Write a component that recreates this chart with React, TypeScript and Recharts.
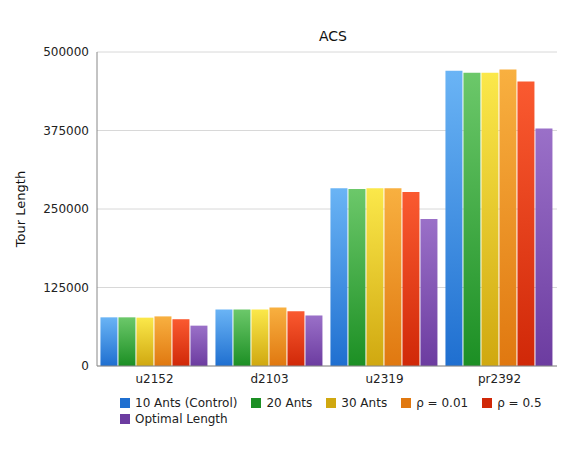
import React from "react";
import { BarChart, Bar, XAxis, YAxis, CartesianGrid, Legend } from "recharts";

const categories = ["u2152", "d2103", "u2319", "pr2392"];
const ants10 = [77500, 90000, 283000, 470000];
const ants20 = [77500, 90000, 282000, 467000];
const ants30 = [77000, 90000, 283000, 467000];
const rho001 = [79000, 93000, 283000, 472000];
const rho05 = [74500, 87000, 277000, 453000];
const optimal = [64253, 80450, 234256, 378032];
const ticks = [0, 125000, 250000, 375000, 500000];

const series = [
  { key: "a10", name: "10 Ants (Control)", vals: ants10, c1: "#6ab4f5", c2: "#1f6fd0" },
  { key: "a20", name: "20 Ants", vals: ants20, c1: "#6cc86a", c2: "#1c8f24" },
  { key: "a30", name: "30 Ants", vals: ants30, c1: "#fbe84a", c2: "#d0a810" },
  { key: "r1", name: "ρ = 0.01", vals: rho001, c1: "#f8b040", c2: "#e07810" },
  { key: "r5", name: "ρ = 0.5", vals: rho05, c1: "#fa5a30", c2: "#d02808" },
  { key: "opt", name: "Optimal Length", vals: optimal, c1: "#9a70c8", c2: "#6c3ca0" },
];

const data = categories.map((c, i) => {
  const o: any = { name: c };
  series.forEach((s) => (o[s.key] = s.vals[i]));
  return o;
});

const font = "'Lucida Grande', 'DejaVu Sans', sans-serif";

const renderLegend = () => (
  <div style={{ marginLeft: 92, width: 460, display: "flex", flexWrap: "wrap", fontSize: 12, fontFamily: font, color: "#222", rowGap: 2 }}>
    {series.map((s) => (
      <div key={s.key} style={{ display: "flex", alignItems: "center", marginRight: 14 }}>
        <div style={{ width: 10, height: 10, background: s.c2, marginRight: 5 }} />
        {s.name}
      </div>
    ))}
  </div>
);

export default function App() {
  return (
    <div style={{ position: "relative", width: 571, height: 448, fontFamily: font }}>
      <div style={{ position: "absolute", top: 20, left: 0, width: 650, textAlign: "center", fontSize: 14, color: "#111" }}>ACS</div>
      <BarChart width={571} height={448} data={data} margin={{ top: 44, right: 22, left: 20, bottom: 10 }} barCategoryGap="3%" barGap={1}>
        <defs>
          {series.map((s) => (
            <linearGradient key={s.key} id={"g" + s.key} x1="0" y1="0" x2="0" y2="1">
              <stop offset="0%" stopColor={s.c1} />
              <stop offset="100%" stopColor={s.c2} />
            </linearGradient>
          ))}
        </defs>
        <CartesianGrid vertical={false} stroke="#d8d8d8" />
        <XAxis dataKey="name" tick={{ fontSize: 12, fill: "#222" }} tickLine={false} axisLine={{ stroke: "#888" }} />
        <YAxis width={69} domain={[0, 500000]} ticks={ticks} tick={{ fontSize: 12, fill: "#222" }} tickLine={false} axisLine={{ stroke: "#888" }}
          label={{ value: "Tour Length", angle: -90, position: "insideLeft", offset: -8, style: { fontSize: 13, fill: "#111", textAnchor: "middle" } }} />
        <Legend verticalAlign="bottom" height={50} content={renderLegend} />
        {series.map((s) => (
          <Bar key={s.key} dataKey={s.key} name={s.name} fill={`url(#g${s.key})`} isAnimationActive={false} />
        ))}
      </BarChart>
    </div>
  );
}
